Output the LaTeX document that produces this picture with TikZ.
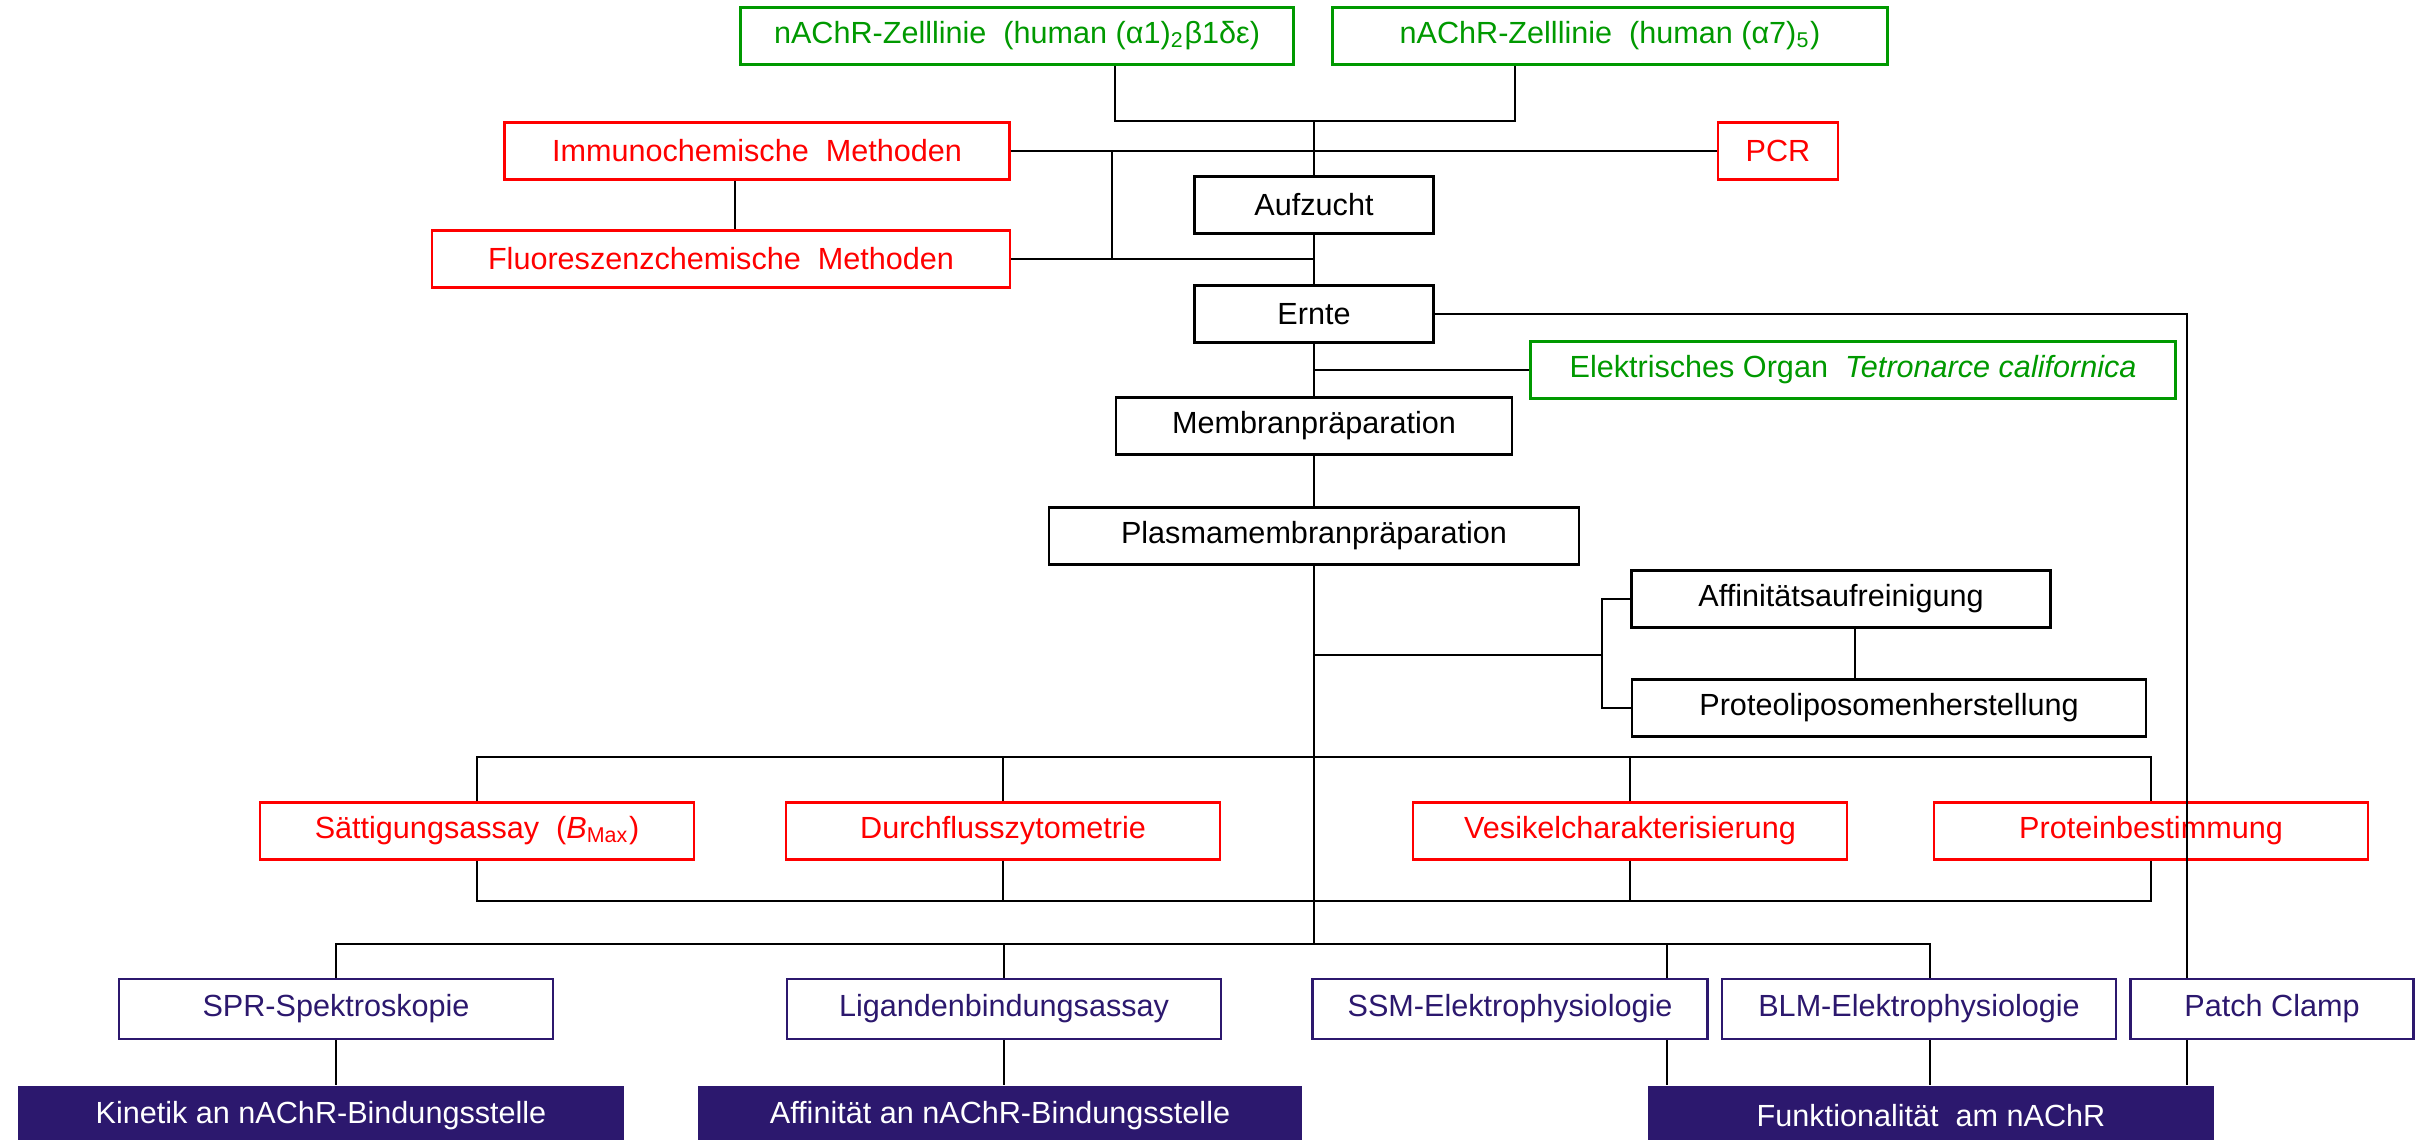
\documentclass[tikz,border=0pt]{standalone}
\usepackage{fontspec}
\setmainfont{Liberation Sans}
\usetikzlibrary{calc}
\definecolor{grn}{RGB}{0,153,0}
\definecolor{navy}{RGB}{44,24,110}

\begin{document}
\begin{tikzpicture}[x=0.01cm,y=-0.01cm,line width=0.6pt,
    box/.style={draw,line width=0.7pt,inner sep=0pt,minimum height=0.57cm,
      font=\fontsize{8.7}{10}\selectfont},
    cellbox/.style={box,draw=grn,text=grn},
    redbox/.style={box,draw=red,text=red},
    blkbox/.style={box},
    bluebox/.style={box,draw=navy,text=navy,minimum height=0.6cm},
    darkbox/.style={box,draw=none,fill=navy,text=white,minimum height=0.6cm}]
  \useasboundingbox (0,0) rectangle (2422,1139);

  % Zelllinien und Aufzucht
  \node[cellbox,minimum width=5.53cm] (cellA) at (1017,36)
    {nAChR-Zelllinie\ \ (human (α1)\textsubscript{2}β1δε)};
  \node[cellbox,minimum width=5.55cm] (cellB) at (1610,36)
    {nAChR-Zelllinie\ \ (human (α7)\textsubscript{5})};
  \node[redbox,minimum width=5.05cm] (immuno) at (757,151) {Immunochemische\ \ Methoden};
  \node[redbox,minimum width=1.2cm] (pcr) at (1778,151) {PCR};
  \node[redbox,minimum width=5.78cm] (fluor) at (721,259) {Fluoreszenzchemische\ \ Methoden};
  \node[blkbox,minimum width=2.39cm] (aufzucht) at (1314,205) {Aufzucht};
  \node[blkbox,minimum width=2.39cm] (ernte) at (1314,314) {Ernte};
  \node[cellbox,minimum width=6.45cm] (organ) at (1853,370)
    {Elektrisches Organ\ \ \textit{Tetronarce californica}};
  \node[blkbox,minimum width=3.96cm] (membran) at (1314,426) {Membranpräparation};
  \node[blkbox,minimum width=5.3cm] (plasma) at (1314,536) {Plasmamembranpräparation};
  \node[blkbox,minimum width=4.19cm] (affin) at (1841,599) {Affinitätsaufreinigung};
  \node[blkbox,minimum width=5.14cm] (prot) at (1889,708) {Proteoliposomenherstellung};

  % Charakterisierung
  \node[redbox,minimum width=4.34cm] (satt) at (477,831)
    {Sättigungsassay\ \ (\textit{B}\textsubscript{Max})};
  \node[redbox,minimum width=4.34cm] (durch) at (1003,831) {Durchflusszytometrie};
  \node[redbox,minimum width=4.34cm] (vesikel) at (1630,831) {Vesikelcharakterisierung};
  \node[redbox,minimum width=4.34cm] (protein) at (2151,831) {Proteinbestimmung};

  % Methoden und Ziele
  \node[bluebox,minimum width=4.34cm] (spr) at (336,1009) {SPR-Spektroskopie};
  \node[bluebox,minimum width=4.34cm] (ligand) at (1004,1009) {Ligandenbindungsassay};
  \node[bluebox,minimum width=3.95cm] (ssm) at (1510,1009) {SSM-Elektrophysiologie};
  \node[bluebox,minimum width=3.94cm] (blm) at (1919,1009) {BLM-Elektrophysiologie};
  \node[bluebox,minimum width=2.83cm] (patch) at (2272,1009) {Patch Clamp};
  \node[darkbox,minimum width=6.06cm] (kinetik) at (321,1116) {Kinetik an nAChR-Bindungsstelle};
  \node[darkbox,minimum width=6.04cm] (affbs) at (1000,1116) {Affinität an nAChR-Bindungsstelle};
  \node[darkbox,minimum width=5.65cm] (funkt) at (1931,1116) {Funktionalität\ \ am nAChR};

  \coordinate (jA) at (1115,121);
  \coordinate (jB) at (1515,121);
  \coordinate (jT) at (1314,121);
  \coordinate (jI) at (1112,151);
  \coordinate (xF) at (735,0);
  \coordinate (jAff) at (1602,655);
  \coordinate (xAP) at (1855,0);
  \coordinate (xP) at (2187,0);
  \coordinate (rT) at (0,757);
  \coordinate (rB) at (0,901);
  \coordinate (bT) at (1314,944);
  \coordinate (xS) at (1667,0);
  \coordinate (xB) at (1930,0);

  \draw (cellA.south -| jA) -- (jA) -- (jB) -- (cellB.south -| jB);
  \draw (jT) -- (aufzucht);
  \draw (immuno) -- (pcr);
  \draw (xF |- immuno.south) -- (xF |- fluor.north);
  \draw (jI) -- (jI |- fluor);
  \draw (fluor) -- (fluor -| aufzucht);
  \draw (aufzucht) -- (ernte);
  \draw (ernte) -- (membran);
  \draw (organ) -- (organ -| ernte);
  \draw (ernte.east) -| (xP |- patch.north);
  \draw (membran) -- (plasma);
  \draw (plasma) -- (bT);
  \draw (plasma.south |- jAff) -- (jAff);
  \draw (affin.west) -| (jAff) |- (prot.west);
  \draw (xAP |- affin.south) -- (xAP |- prot.north);

  \draw (satt.north) |- (protein.north |- rT) -- (protein.north);
  \draw (durch.north) -- (durch.north |- rT);
  \draw (vesikel.north) -- (vesikel.north |- rT);
  \draw (satt.south) |- (protein.south |- rB) -- (protein.south);
  \draw (durch.south) -- (durch.south |- rB);
  \draw (vesikel.south) -- (vesikel.south |- rB);

  \draw (spr.north) |- (xB |- bT) -- (xB |- blm.north);
  \draw (ligand.north) -- (ligand.north |- bT);
  \draw (xS |- bT) -- (xS |- ssm.north);
  \draw (spr.south) -- (spr.south |- kinetik.north);
  \draw (ligand.south) -- (ligand.south |- affbs.north);
  \draw (xS |- ssm.south) -- (xS |- funkt.north);
  \draw (xB |- blm.south) -- (xB |- funkt.north);
  \draw (xP |- patch.south) -- (xP |- funkt.north);
\end{tikzpicture}
\end{document}
